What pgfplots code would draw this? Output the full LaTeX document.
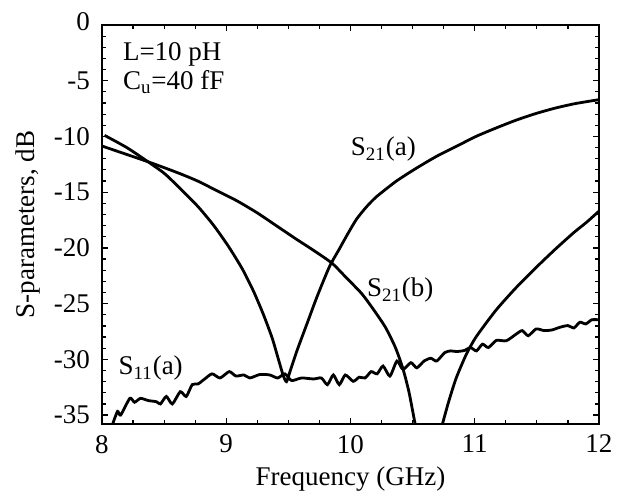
\documentclass[border=0pt]{standalone}
\usepackage{fontspec}
\setmainfont{Liberation Serif}
\usepackage{pgfplots}
\pgfplotsset{compat=1.18}
\begin{document}
\begin{tikzpicture}[font=\rmfamily\fontsize{13.5pt}{16pt}\selectfont]
\begin{axis}[
    scale only axis, width=248.5pt, height=199.5pt,
    xmin=8, xmax=12, ymin=-35.8, ymax=0,
    xtick={8,9,10,11,12}, xticklabels={8,9,10,11,12}, minor x tick num=3,
    ytick={-35,-30,-25,-20,-15,-10,-5,0},
    yticklabels={-35,-30,-25,-20,-15,-10,-5,\raisebox{3.75pt}{0}},
    minor y tick num=4,
    tick align=inside, xtick pos=both, ytick pos=both,
    xticklabel pos=lower, yticklabel pos=left,
    major tick length=3pt, minor tick length=2pt,
    axis line style={line width=0.7pt},
    every tick/.style={black, line width=0.6pt},
    tick label style={font=\rmfamily\fontsize{13.5pt}{16pt}\selectfont},
    label style={font=\rmfamily\fontsize{13.5pt}{16pt}\selectfont},
    xticklabel style={yshift=-2pt},
    yticklabel style={xshift=-2.5pt},
    xlabel={Frequency (GHz)}, ylabel={S-parameters, dB},
    unbounded coords=jump,
]
% S21(a)
\addplot[black, line width=1.4pt, smooth, tension=0.4] coordinates {
(8.02,-9.9)(8.2,-11.0)(8.37,-12.27)(8.5,-13.3)(8.61,-14.46)(8.77,-16.26)(8.90,-18.0)
(9.02,-19.9)(9.13,-21.9)(9.22,-23.9)(9.30,-26.0)(9.37,-28.1)(9.42,-30.0)(9.46,-31.5)
(9.485,-32.0)(9.51,-31.2)(9.57,-29.2)(9.65,-26.8)(9.73,-24.4)(9.83,-21.7)(9.91,-20.1)
(9.98,-18.7)(10.05,-17.4)(10.13,-16.3)(10.21,-15.4)(10.37,-14.0)(10.53,-12.85)
(10.69,-11.8)(10.85,-10.9)(11.01,-10.0)(11.17,-9.25)(11.33,-8.55)(11.49,-7.95)
(11.65,-7.45)(11.81,-7.05)(12.0,-6.7)
};
% S21(b)
\addplot[black, line width=1.4pt, smooth, tension=0.4] coordinates {
(8.0,-10.86)(8.37,-12.27)(8.61,-13.26)(8.77,-14.0)(8.93,-14.9)(9.09,-15.8)(9.25,-16.86)
(9.41,-18.06)(9.57,-19.26)(9.70,-20.2)(9.85,-21.36)(9.96,-22.6)(10.09,-24.1)(10.18,-25.45)
(10.28,-27.1)(10.36,-28.9)(10.42,-30.76)(10.47,-32.9)(10.52,-35.8)
(10.63,nan)
(10.74,-35.8)(10.79,-33.8)(10.85,-31.7)(10.93,-29.6)(11.01,-28.0)(11.17,-25.6)
(11.33,-23.6)(11.49,-21.8)(11.65,-20.1)(11.80,-18.6)(11.90,-17.7)(12.0,-16.7)
};
% S11(a)
\addplot[black, line width=1.4pt, smooth, tension=0.4] coordinates {
(8.086,-35.8)(8.125,-34.67)(8.15,-35.0)(8.224,-33.5)(8.262,-33.85)(8.31,-33.5)
(8.374,-33.7)(8.438,-33.8)(8.47,-34.0)(8.518,-33.33)(8.566,-34.0)(8.63,-32.9)
(8.678,-33.33)(8.726,-32.27)(8.774,-32.2)(8.822,-31.8)(8.886,-31.3)(8.95,-31.67)
(9.024,-31.1)(9.078,-31.5)(9.142,-31.4)(9.19,-31.67)(9.27,-31.36)(9.35,-31.4)
(9.414,-31.67)(9.472,-31.3)(9.526,-31.9)(9.606,-31.67)(9.702,-31.76)(9.766,-31.67)
(9.814,-32.27)(9.862,-31.4)(9.91,-32.27)(9.958,-31.4)(10.022,-31.97)(10.07,-31.6)
(10.118,-31.67)(10.166,-31.1)(10.214,-31.3)(10.262,-30.6)(10.317,-31.5)(10.374,-30.15)
(10.422,-30.9)(10.486,-30.3)(10.534,-30.76)(10.592,-30.15)(10.646,-29.9)(10.694,-30.15)
(10.758,-29.4)(10.806,-29.24)(10.854,-29.3)(10.918,-29.2)(10.966,-28.94)(11.014,-29.24)
(11.062,-28.64)(11.11,-28.94)(11.174,-28.3)(11.254,-28.33)(11.334,-27.73)(11.382,-27.42)
(11.43,-27.88)(11.494,-27.27)(11.558,-27.42)(11.622,-27.36)(11.686,-27.12)(11.75,-26.97)
(11.798,-27.18)(11.846,-26.67)(11.894,-26.82)(11.942,-26.45)(12.0,-26.45)
};
\node[anchor=base west, inner sep=0] at (axis cs:8.166,-3.2) {L=10 pH};
\node[anchor=base west, inner sep=0] at (axis cs:8.166,-5.8) {C\textsubscript{u}=40 fF};
\node[anchor=base west, inner sep=0] at (axis cs:10.0,-11.75) {S\textsubscript{21}(a)};
\node[anchor=base west, inner sep=0] at (axis cs:10.13,-24.4) {S\textsubscript{21}(b)};
\node[anchor=base west, inner sep=0] at (axis cs:8.13,-31.4) {S\textsubscript{11}(a)};
\end{axis}
\pgfresetboundingbox
\path[use as bounding box] (current axis.south west) ++(-51pt,-37.5pt) rectangle ++(311.5pt,249.5pt);
\end{tikzpicture}
\end{document}
